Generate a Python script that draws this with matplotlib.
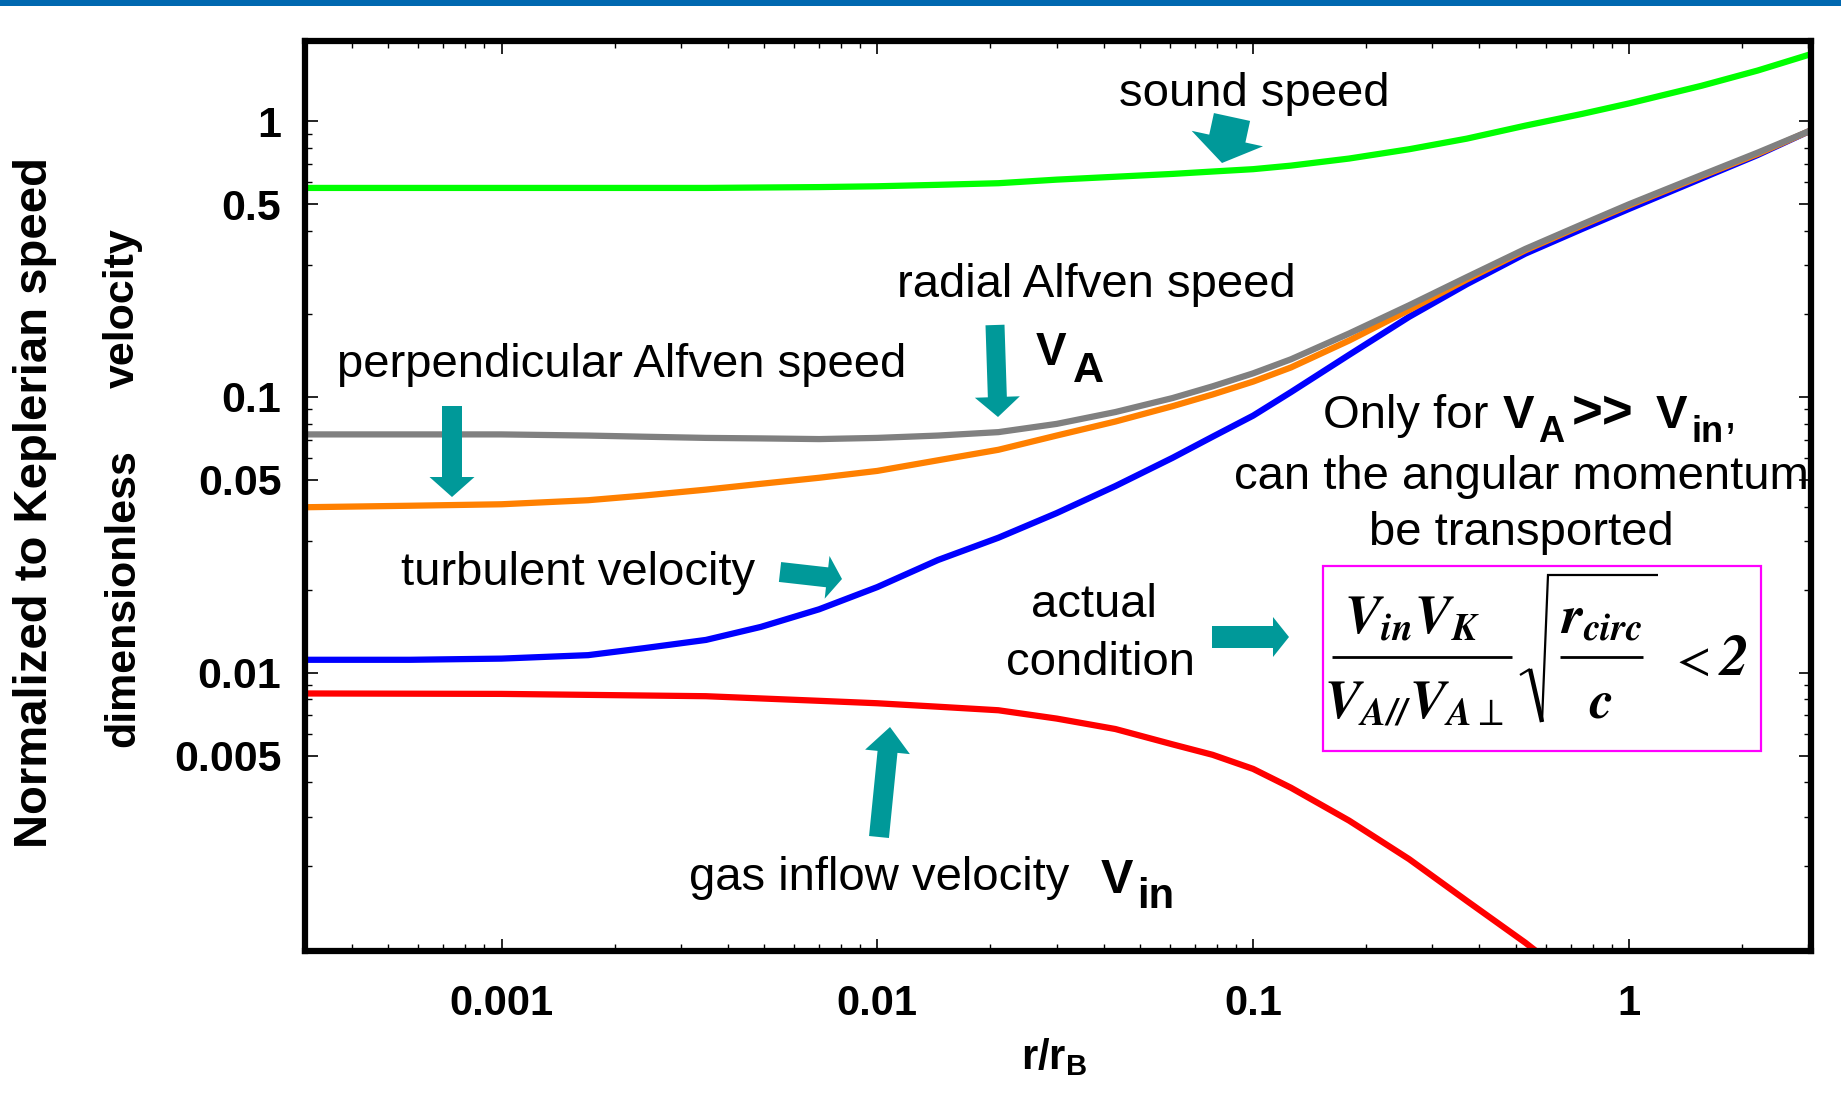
import matplotlib
matplotlib.use("Agg")
import matplotlib.pyplot as plt
from matplotlib.patches import FancyArrowPatch, Rectangle, ArrowStyle
from matplotlib.lines import Line2D
from matplotlib.ticker import LogLocator, NullFormatter

plt.rcParams['font.family'] = ['Liberation Sans', 'DejaVu Sans']
plt.rcParams['mathtext.fontset'] = 'custom'
plt.rcParams['mathtext.rm'] = 'Liberation Sans'
plt.rcParams['mathtext.bf'] = 'Liberation Sans:bold'
plt.rcParams['mathtext.it'] = 'Liberation Sans:italic'

W, H = 1841, 1099

# r / r_B sample points
r_vals = [3e-4, 5.7e-4, 1e-3, 1.7e-3, 2.4e-3, 3.5e-3, 4.9e-3, 7e-3, 0.01, 0.0145,
          0.021, 0.03, 0.043, 0.061, 0.078, 0.1, 0.126, 0.18, 0.26, 0.37,
          0.53, 0.75, 1.0, 1.56, 2.2, 3.05]

sound_speed = [0.572, 0.572, 0.572, 0.572, 0.572, 0.572, 0.574, 0.576, 0.580, 0.587,
               0.595, 0.613, 0.628, 0.643, 0.656, 0.669, 0.689, 0.731, 0.790, 0.863,
               0.962, 1.061, 1.158, 1.342, 1.524, 1.748]
radial_alfven = [0.0731, 0.0731, 0.0731, 0.0724, 0.0717, 0.0710, 0.0707, 0.0703, 0.0710, 0.0724,
                 0.0745, 0.0798, 0.0881, 0.0990, 0.1092, 0.1217, 0.1368, 0.1697, 0.2148, 0.2716,
                 0.3438, 0.422, 0.499, 0.637, 0.768, 0.925]
perp_alfven = [0.0398, 0.0403, 0.0408, 0.0422, 0.0439, 0.0461, 0.0484, 0.0509, 0.0539, 0.0589,
               0.0643, 0.0724, 0.0814, 0.0925, 0.1020, 0.1136, 0.1278, 0.160, 0.2065, 0.2663,
               0.340, 0.418, 0.494, 0.631, 0.760, 0.925]
turbulent = [0.01114, 0.01114, 0.01125, 0.01158, 0.01228, 0.01315, 0.01466, 0.01698, 0.02044, 0.02562,
             0.03086, 0.0379, 0.0475, 0.0601, 0.0717, 0.0855, 0.104, 0.142, 0.195, 0.256,
             0.3305, 0.406, 0.480, 0.619, 0.753, 0.925]

r_inflow = [3e-4, 1e-3, 3.5e-3, 7e-3, 0.01, 0.0145, 0.021, 0.03, 0.043, 0.061,
            0.078, 0.1, 0.126, 0.18, 0.26, 0.37, 0.53, 0.62]
gas_inflow = [0.00841, 0.00838, 0.00822, 0.00791, 0.00775, 0.00753, 0.00731, 0.00682, 0.00625, 0.0055,
              0.00504, 0.00448, 0.00383, 0.00291, 0.00211, 0.00149, 0.00105, 0.000889]

xticks = [1e-3, 1e-2, 1e-1, 1]
xtick_labels = ['0.001', '0.01', '0.1', '1']
yticks = [0.005, 0.01, 0.05, 0.1, 0.5, 1]
ytick_labels = ['0.005', '0.01', '0.05', '0.1', '0.5', '1']

TEAL = '#009999'


def fx(x):
    return x / W


def fy(y):
    return 1 - y / H


fig = plt.figure(figsize=(W / 100, H / 100), dpi=100)

# blue bar on top of the slide
fig.add_artist(Rectangle((0, fy(6)), 1, 6 / H, transform=fig.transFigure,
                         color='#0068b0', lw=0))

ax = fig.add_axes([fx(305), fy(951), (1811 - 305) / W, (951 - 41) / H])
ax.set_xscale('log')
ax.set_yscale('log')

LW = 4.5
ax.plot(r_vals, sound_speed, color='#00ff00', lw=LW)
ax.plot(r_inflow, gas_inflow, color='#ff0000', lw=LW)
ax.plot(r_vals, turbulent, color='#0000ff', lw=LW)
ax.plot(r_vals, perp_alfven, color='#ff8000', lw=LW)
ax.plot(r_vals, radial_alfven, color='#808080', lw=LW)

ax.set_xlim(3e-4, 3.05)
ax.set_ylim(0.00098, 1.95)

ax.set_xticks(xticks, labels=xtick_labels)
ax.set_yticks(yticks, labels=ytick_labels)
ax.xaxis.set_minor_locator(LogLocator(base=10, subs=range(2, 10), numticks=20))
ax.yaxis.set_minor_locator(LogLocator(base=10, subs=range(2, 10), numticks=20))
ax.xaxis.set_minor_formatter(NullFormatter())
ax.yaxis.set_minor_formatter(NullFormatter())
ax.tick_params(which='both', direction='in', top=True, right=True)
ax.tick_params(which='major', length=9, width=1.2)
ax.tick_params(which='minor', length=5, width=1.0)
ax.tick_params(axis='x', which='major', labelsize=30, pad=24)
ax.tick_params(axis='y', which='major', labelsize=31, pad=17)
for lab in ax.get_xticklabels() + ax.get_yticklabels():
    lab.set_fontweight('bold')
for sp in ax.spines.values():
    sp.set_linewidth(4.5)

# axis titles
fig.text(fx(1054), fy(1057), r'$\mathbf{r/r_B}$', fontsize=30, ha='center', va='center')
fig.text(fx(35), fy(502), 'Normalized to Keplerian speed', fontsize=34, fontweight='bold',
         rotation=90, ha='center', va='center')
fig.text(fx(123), fy(598), 'dimensionless', fontsize=31, fontweight='bold',
         rotation=90, ha='center', va='center')
fig.text(fx(123), fy(308), 'velocity', fontsize=31, fontweight='bold',
         rotation=90, ha='center', va='center')


def label(x, y, s, size=34, weight='normal', ha='center', va='center', **kw):
    ax.text(fx(x), fy(y), s, fontsize=size, fontweight=weight, ha=ha, va=va,
            transform=fig.transFigure, clip_on=False, zorder=2, **kw)


label(1254, 94, 'sound speed')
label(1096, 285, 'radial Alfven speed')
label(622, 365, 'perpendicular Alfven speed')
label(578, 573, 'turbulent velocity')
label(1094, 605, 'actual')
label(1101, 663, 'condition')
label(879, 878, 'gas inflow velocity')

# V_A near the radial Alfven arrow
label(1036, 365, 'V', 33, 'bold', ha='left', va='baseline')
label(1073, 382, 'A', 31, 'bold', ha='left', va='baseline')
# V_in
label(1101, 893, 'V', 35, 'bold', ha='left', va='baseline')
label(1137, 908, 'in', 30, 'bold', ha='left', va='baseline')

# "Only for V_A >> V_in," block
label(1323, 428, 'Only for', ha='left', va='baseline')
label(1503, 428, 'V', 34, 'bold', ha='left', va='baseline')
label(1538, 442, 'A', 26, 'bold', ha='left', va='baseline')
label(1572, 428, '>>', 38, 'bold', ha='left', va='baseline')
label(1656, 428, 'V', 34, 'bold', ha='left', va='baseline')
label(1692, 442, 'in', 26, 'bold', ha='left', va='baseline')
label(1724, 428, ',', 34, ha='left', va='baseline')
label(1521, 477, 'can the angular momentum')
label(1521, 533, 'be transported')

# condition formula in a magenta box, built from pieces
fig.add_artist(Rectangle((fx(1323), fy(751)), (1761 - 1323) / W, (751 - 566) / H,
                         transform=fig.transFigure, fill=False, edgecolor='#ff00ff', lw=1.6))
FS = 39
label(1412, 633, r'$\mathbfit{V}_{\mathbfit{in}}\mathbfit{V}_{\mathbfit{K}}$', FS,
      va='baseline', math_fontfamily='stix')
label(1414, 718, r'$\mathbfit{V}_{\mathbfit{A//}}\mathbfit{V}_{\mathbfit{A}\perp}$', FS,
      va='baseline', math_fontfamily='stix')
label(1601, 633, r'$\mathbfit{r}_{\mathbfit{circ}}$', FS, va='baseline', math_fontfamily='stix')
label(1601, 717, r'$\mathbfit{c}$', FS, va='baseline', math_fontfamily='stix')
label(1689, 662, r'$<$', 36, math_fontfamily='stix')
label(1718, 675, r'$\mathbfit{2}$', 42, ha='left', va='baseline', math_fontfamily='stix')


def seg(xs, ys, lw):
    fig.add_artist(Line2D([fx(x) for x in xs], [fy(y) for y in ys], transform=fig.transFigure,
                          color='black', lw=lw, solid_capstyle='butt', solid_joinstyle='miter'))


seg([1332, 1512], [657, 657], 2.0)                    # fraction bar
seg([1560, 1643], [657, 657], 2.0)                    # inner fraction bar
seg([1520, 1530], [675, 669], 1.6)                    # radical sign
seg([1530, 1542], [669, 722], 3.2)
seg([1542, 1548, 1658], [722, 575, 575], 1.6)


def block_arrow(x0, y0, x1, y1, tail, head, hlen):
    style = ArrowStyle.Simple(head_length=hlen * 0.72, head_width=head * 0.72,
                              tail_width=tail * 0.72)
    arr = FancyArrowPatch((fx(x0), fy(y0)), (fx(x1), fy(y1)), transform=fig.transFigure,
                          arrowstyle=style, color=TEAL, lw=0, shrinkA=0, shrinkB=0,
                          mutation_scale=1)
    fig.add_artist(arr)


block_arrow(1232, 117, 1222, 163, 37, 73, 25)   # sound speed
block_arrow(995, 325, 998, 417, 19, 45, 20)     # radial Alfven
block_arrow(452, 406, 452, 497, 20, 45, 20)     # perpendicular Alfven
block_arrow(780, 572, 842, 579, 20, 43, 15)     # turbulent
block_arrow(1212, 637, 1289, 637, 22, 40, 16)   # actual condition
block_arrow(879, 837, 890, 727, 20, 45, 25)     # gas inflow

fig.savefig('out.png', dpi=100)
